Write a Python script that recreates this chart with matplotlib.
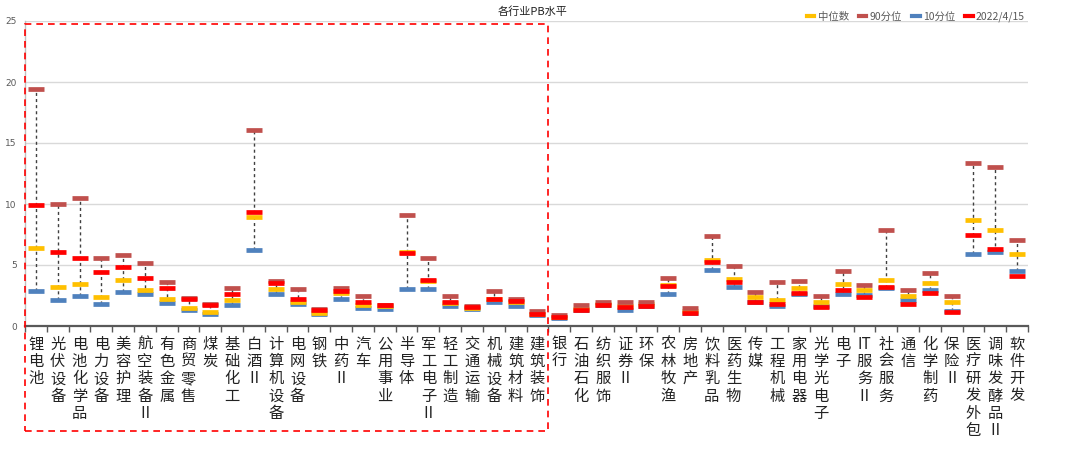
import matplotlib
matplotlib.use("Agg")
import matplotlib.pyplot as plt
from matplotlib.lines import Line2D
from matplotlib.patches import Rectangle
from matplotlib.transforms import blended_transform_factory
import numpy as np

plt.rcParams['font.family'] = ['Noto Sans CJK SC', 'DejaVu Sans']

categories = ["锂电池", "光伏设备", "电池化学品", "电力设备", "美容护理", "航空装备Ⅱ", "有色金属",
              "商贸零售", "煤炭", "基础化工", "白酒Ⅱ", "计算机设备", "电网设备", "钢铁", "中药Ⅱ",
              "汽车", "公用事业", "半导体", "军工电子Ⅱ", "轻工制造", "交通运输", "机械设备",
              "建筑材料", "建筑装饰", "银行", "石油石化", "纺织服饰", "证券Ⅱ", "环保", "农林牧渔",
              "房地产", "饮料乳品", "医药生物", "传媒", "工程机械", "家用电器", "光学光电子", "电子",
              "IT服务Ⅱ", "社会服务", "通信", "化学制药", "保险Ⅱ", "医疗研发外包", "调味发酵品Ⅱ", "软件开发"]

p90 = [19.4, 10.0, 10.5, 5.6, 5.85, 5.15, 3.6, 2.3, 1.8, 3.15, 16.05, 3.7, 3.0, 1.4, 3.1,
       2.5, 1.75, 9.1, 5.55, 2.5, 1.6, 2.9, 2.2, 1.2, 0.9, 1.75, 2.0, 1.95, 2.0, 3.95,
       1.45, 7.4, 4.9, 2.75, 3.6, 3.65, 2.45, 4.5, 3.35, 7.85, 2.95, 4.35, 2.5, 13.4, 13.05, 7.05]
median = [6.4, 3.2, 3.45, 2.35, 3.8, 2.95, 2.2, 1.5, 1.15, 2.15, 8.9, 3.0, 2.0, 1.1, 2.7,
          1.75, 1.6, 6.1, 3.7, 1.9, 1.5, 2.2, 2.0, 1.0, 0.75, 1.4, 1.8, 1.65, 1.8, 3.4,
          1.25, 5.45, 3.85, 2.4, 2.15, 3.15, 2.0, 3.45, 2.95, 3.8, 2.45, 3.5, 2.0, 8.7, 7.85, 5.9]
p10 = [2.9, 2.1, 2.45, 1.8, 2.8, 2.6, 1.9, 1.35, 1.0, 1.75, 6.2, 2.6, 1.8, 0.95, 2.25,
       1.5, 1.4, 3.0, 3.0, 1.65, 1.4, 1.95, 1.65, 0.9, 0.65, 1.3, 1.7, 1.35, 1.6, 2.65,
       1.05, 4.6, 3.2, 2.0, 1.65, 2.6, 1.65, 2.6, 2.55, 3.15, 2.1, 2.95, 1.2, 5.9, 6.1, 4.5]
current = [9.9, 6.05, 5.55, 4.4, 4.85, 3.9, 3.1, 2.2, 1.75, 2.65, 9.35, 3.5, 2.25, 1.3, 2.9,
           1.95, 1.7, 6.0, 3.8, 2.0, 1.55, 2.2, 2.05, 1.0, 0.7, 1.35, 1.7, 1.55, 1.65, 3.3,
           1.1, 5.25, 3.6, 2.0, 1.8, 2.7, 1.55, 2.95, 2.4, 3.2, 1.8, 2.7, 1.15, 7.45, 6.3, 4.1]

series_names = ["中位数", "90分位", "10分位", "2022/4/15"]
y_ticks = [0, 5, 10, 15, 20, 25]
boxed_count = 24

c_med = "#FFC000"
c_90 = "#C0504D"
c_10 = "#4F81BD"
c_cur = "#FF0000"

fig = plt.figure(figsize=(10.8, 4.66), dpi=100)
ax = fig.add_axes([25 / 1080, 1 - 326 / 466, (1028 - 25) / 1080, (326 - 21) / 466])

x = np.arange(len(categories))

ax.vlines(x, p10, p90, colors="#404040", linestyles=(0, (2.2, 2.2)), linewidth=1.0, zorder=2)

mk = dict(ls="none", marker="_", ms=11, mew=3.4, zorder=3)
ax.plot(x, p10, color=c_10, **mk)
ax.plot(x, median, color=c_med, **mk)
ax.plot(x, p90, color=c_90, **mk)
ax.plot(x, current, color=c_cur, **dict(mk, zorder=4))

ax.set_xlim(-0.5, len(categories) - 0.5)
ax.set_ylim(0, 25)
ax.set_yticks(y_ticks)
ax.set_yticklabels([str(v) for v in y_ticks], fontsize=6.5, color="#595959", family="DejaVu Sans")
ax.tick_params(axis="y", length=0, pad=6)
ax.yaxis.grid(True, color="#D9D9D9", linewidth=1.0)
ax.set_axisbelow(True)

ax.set_xticks(x)
ax.set_xticklabels(["\n".join(list(c)) if not c.startswith("IT") else "IT\n" + "\n".join(list(c[2:]))
                    for c in categories],
                   fontsize=11, color="#222222", linespacing=1.02, va="top")
ax.tick_params(axis="x", which="major", length=0, pad=7)
ax.set_xticks(np.arange(-0.5, len(categories) + 0.5, 1), minor=True)
ax.tick_params(axis="x", which="minor", length=4, width=1, color="#595959", direction="out")

for s in ["top", "right"]:
    ax.spines[s].set_visible(False)
ax.spines["left"].set_color("#BFBFBF")
ax.spines["left"].set_linewidth(1.0)
ax.spines["bottom"].set_color("#595959")
ax.spines["bottom"].set_linewidth(1.6)

# dashed highlight box around first group
tr = blended_transform_factory(ax.transData, fig.transFigure)
y_bot = 1 - 431 / 466
y_top = 1 - 24 / 466
rect = Rectangle((-0.5, y_bot), boxed_count, y_top - y_bot, transform=tr, fill=False,
                 edgecolor="#FF0000", linestyle=(0, (4, 3)), linewidth=1.2, clip_on=False, zorder=5)
fig.add_artist(rect)

fig.text(533 / 1080, 1 - 12 / 466, "各行业PB水平", ha="center", va="center", fontsize=8, color="#222222")

handles = [Line2D([], [], color=c, lw=3) for c in [c_med, c_90, c_10, c_cur]]
leg = fig.legend(handles, series_names, loc="center right", bbox_to_anchor=(1030 / 1080, 1 - 17 / 466),
                 ncol=4, frameon=False, fontsize=7.5, handlelength=0.7, handletextpad=0.3,
                 columnspacing=1.0, borderpad=0)
for t in leg.get_texts():
    t.set_color("#595959")

fig.savefig("out.png", dpi=100)
